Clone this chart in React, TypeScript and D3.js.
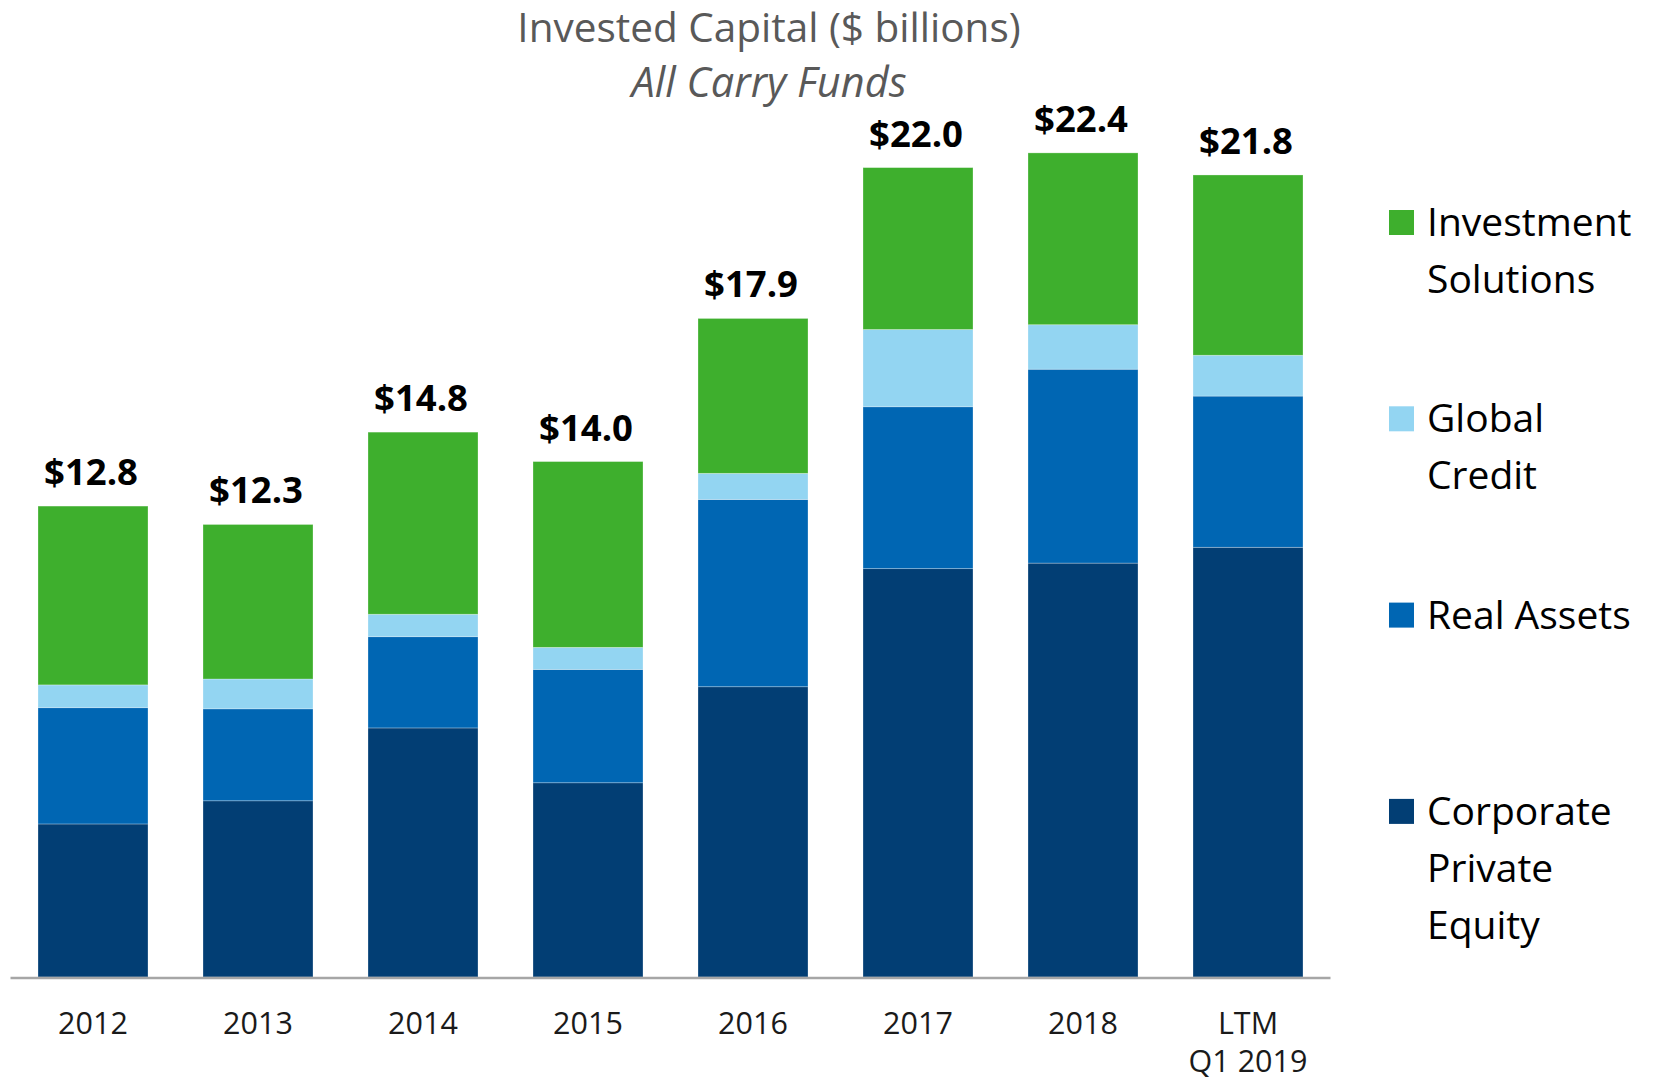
import React from "react";
import * as d3 from "d3";

const categories: string[][] = [["2012"], ["2013"], ["2014"], ["2015"], ["2016"], ["2017"], ["2018"], ["LTM", "Q1 2019"]];
const corporatePE = [4.16, 4.79, 6.77, 5.28, 7.89, 11.1, 11.25, 11.68];
const realAssets = [3.16, 2.5, 2.48, 3.08, 5.09, 4.4, 5.27, 4.11];
const globalCredit = [0.62, 0.81, 0.61, 0.6, 0.71, 2.1, 1.21, 1.11];
const investmentSolutions = [4.86, 4.2, 4.95, 5.05, 4.21, 4.4, 4.67, 4.9];
const totalLabels = ["$12.8", "$12.3", "$14.8", "$14.0", "$17.9", "$22.0", "$22.4", "$21.8"];

const seriesKeys = ["cpe", "ra", "gc", "is"];
const seriesNames: string[][] = [["Corporate", "Private", "Equity"], ["Real Assets"], ["Global", "Credit"], ["Investment", "Solutions"]];
const seriesColors = ["#023E74", "#0066B3", "#93D5F2", "#3EAF2D"];

const title = "Invested Capital ($ billions)";
const subtitle = "All Carry Funds";

const W = 1653;
const H = 1081;
const FONT = "'Open Sans', 'Noto Sans', sans-serif";

export default function App() {
  const rows = categories.map((c, i) => ({
    key: i,
    cpe: corporatePE[i],
    ra: realAssets[i],
    gc: globalCredit[i],
    is: investmentSolutions[i],
  }));
  const stacked = d3.stack<any>().keys(seriesKeys)(rows);

  const x = d3
    .scaleBand<number>()
    .domain(rows.map((r) => r.key))
    .range([10.5, 1330.5])
    .paddingInner(1 / 3)
    .paddingOuter(1 / 6);
  const maxTotal = d3.max(stacked[stacked.length - 1], (d) => d[1]) as number;
  const y = d3.scaleLinear().domain([0, maxTotal]).range([977, 152.9]);

  const legendOrder = [3, 2, 1, 0];

  return (
    <svg
      width={W}
      height={H}
      style={{ position: "absolute", left: 0, top: 0, background: "#fff" }}
      fontFamily={FONT}
    >
      <text x={769} y={42} textAnchor="middle" fontSize={40.5} fill="#595959">
        {title}
      </text>
      <text x={769} y={97} textAnchor="middle" fontSize={41.5} fontStyle="italic" fill="#595959">
        {subtitle}
      </text>

      {stacked.map((s, si) => (
        <g key={s.key} fill={seriesColors[si]}>
          {s.map((d, i) => (
            <rect
              key={i}
              x={x(i)}
              y={y(d[1])}
              width={x.bandwidth()}
              height={y(d[0]) - y(d[1])}
              stroke="#ffffff"
              strokeOpacity={0.35}
              strokeWidth={0.8}
            />
          ))}
        </g>
      ))}

      <line x1={10.5} x2={1330.5} y1={978} y2={978} stroke="#A6A6A6" strokeWidth={2.5} />

      {stacked[stacked.length - 1].map((d, i) => (
        <text
          key={i}
          x={(x(i) as number) + x.bandwidth() / 2 - 2}
          y={y(d[1]) - 21}
          textAnchor="middle"
          fontSize={36.5}
          fontWeight={700}
          fill="#000"
        >
          {totalLabels[i]}
        </text>
      ))}

      {categories.map((lines, i) => (
        <text
          key={i}
          x={(x(i) as number) + x.bandwidth() / 2}
          y={1034}
          textAnchor="middle"
          fontSize={30.5}
          fill="#1a1a1a"
        >
          {lines.map((l, li) => (
            <tspan key={li} x={(x(i) as number) + x.bandwidth() / 2} dy={li === 0 ? 0 : 38}>
              {l}
            </tspan>
          ))}
        </text>
      ))}

      {legendOrder.map((si, k) => {
        const top = 210 + k * 196.3;
        return (
          <g key={si}>
            <rect x={1389} y={top} width={25} height={25} fill={seriesColors[si]} />
            <text x={1427} y={top + 26} fontSize={39} fill="#000">
              {seriesNames[si].map((l, li) => (
                <tspan key={li} x={1427} dy={li === 0 ? 0 : 57}>
                  {l}
                </tspan>
              ))}
            </text>
          </g>
        );
      })}
    </svg>
  );
}
